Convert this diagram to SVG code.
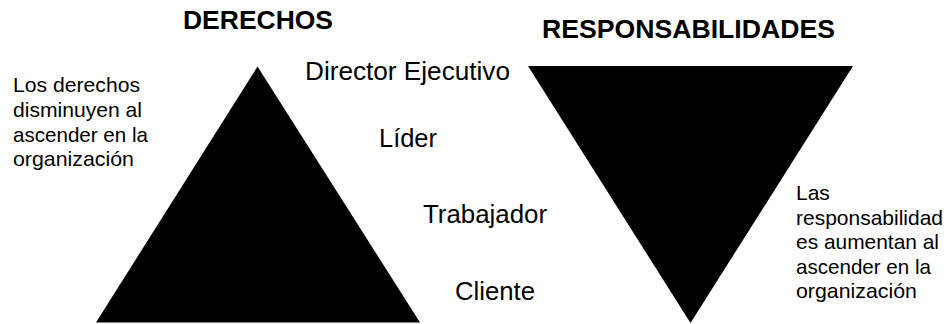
<svg xmlns="http://www.w3.org/2000/svg" width="951" height="324" viewBox="0 0 951 324">
<style>
.t{font-family:"Liberation Sans",Arial,sans-serif;fill:#000}
.h{font-size:26px;font-weight:bold}
.lv{font-size:25.5px}
.n{font-size:21px}
</style>
<rect width="951" height="324" fill="#fff"/>
<g id="derechos">
<polygon points="257.5,66.5 420,322.5 96,322.5" fill="#000"/>
<text class="t h" x="258" y="29" text-anchor="middle" textLength="150" lengthAdjust="spacingAndGlyphs">DERECHOS</text>
</g>
<g id="responsabilidades">
<polygon points="528,66 853,66 690.5,323" fill="#000"/>
<text class="t h" x="688.5" y="38" text-anchor="middle" textLength="293" lengthAdjust="spacingAndGlyphs">RESPONSABILIDADES</text>
</g>
<g id="niveles">
<text class="t lv" x="305" y="80" textLength="205" lengthAdjust="spacingAndGlyphs">Director Ejecutivo</text>
<text class="t lv" x="379" y="147" textLength="58" lengthAdjust="spacingAndGlyphs">Líder</text>
<text class="t lv" x="423" y="223" textLength="124" lengthAdjust="spacingAndGlyphs">Trabajador</text>
<text class="t lv" x="455" y="300" textLength="80" lengthAdjust="spacingAndGlyphs">Cliente</text>
</g>
<g id="nota-derechos">
<text class="t n" x="13" y="92" textLength="127" lengthAdjust="spacingAndGlyphs">Los derechos</text>
<text class="t n" x="13" y="117" textLength="129" lengthAdjust="spacingAndGlyphs">disminuyen al</text>
<text class="t n" x="13" y="142" textLength="135" lengthAdjust="spacingAndGlyphs">ascender en la</text>
<text class="t n" x="13" y="166" textLength="121" lengthAdjust="spacingAndGlyphs">organización</text>
</g>
<g id="nota-responsabilidades">
<text class="t n" x="796" y="200">Las</text>
<text class="t n" x="796" y="225" textLength="147" lengthAdjust="spacingAndGlyphs">responsabilidad</text>
<text class="t n" x="796" y="249" textLength="143" lengthAdjust="spacingAndGlyphs">es aumentan al</text>
<text class="t n" x="796" y="274" textLength="135" lengthAdjust="spacingAndGlyphs">ascender en la</text>
<text class="t n" x="796" y="298" textLength="121" lengthAdjust="spacingAndGlyphs">organización</text>
</g>
</svg>
